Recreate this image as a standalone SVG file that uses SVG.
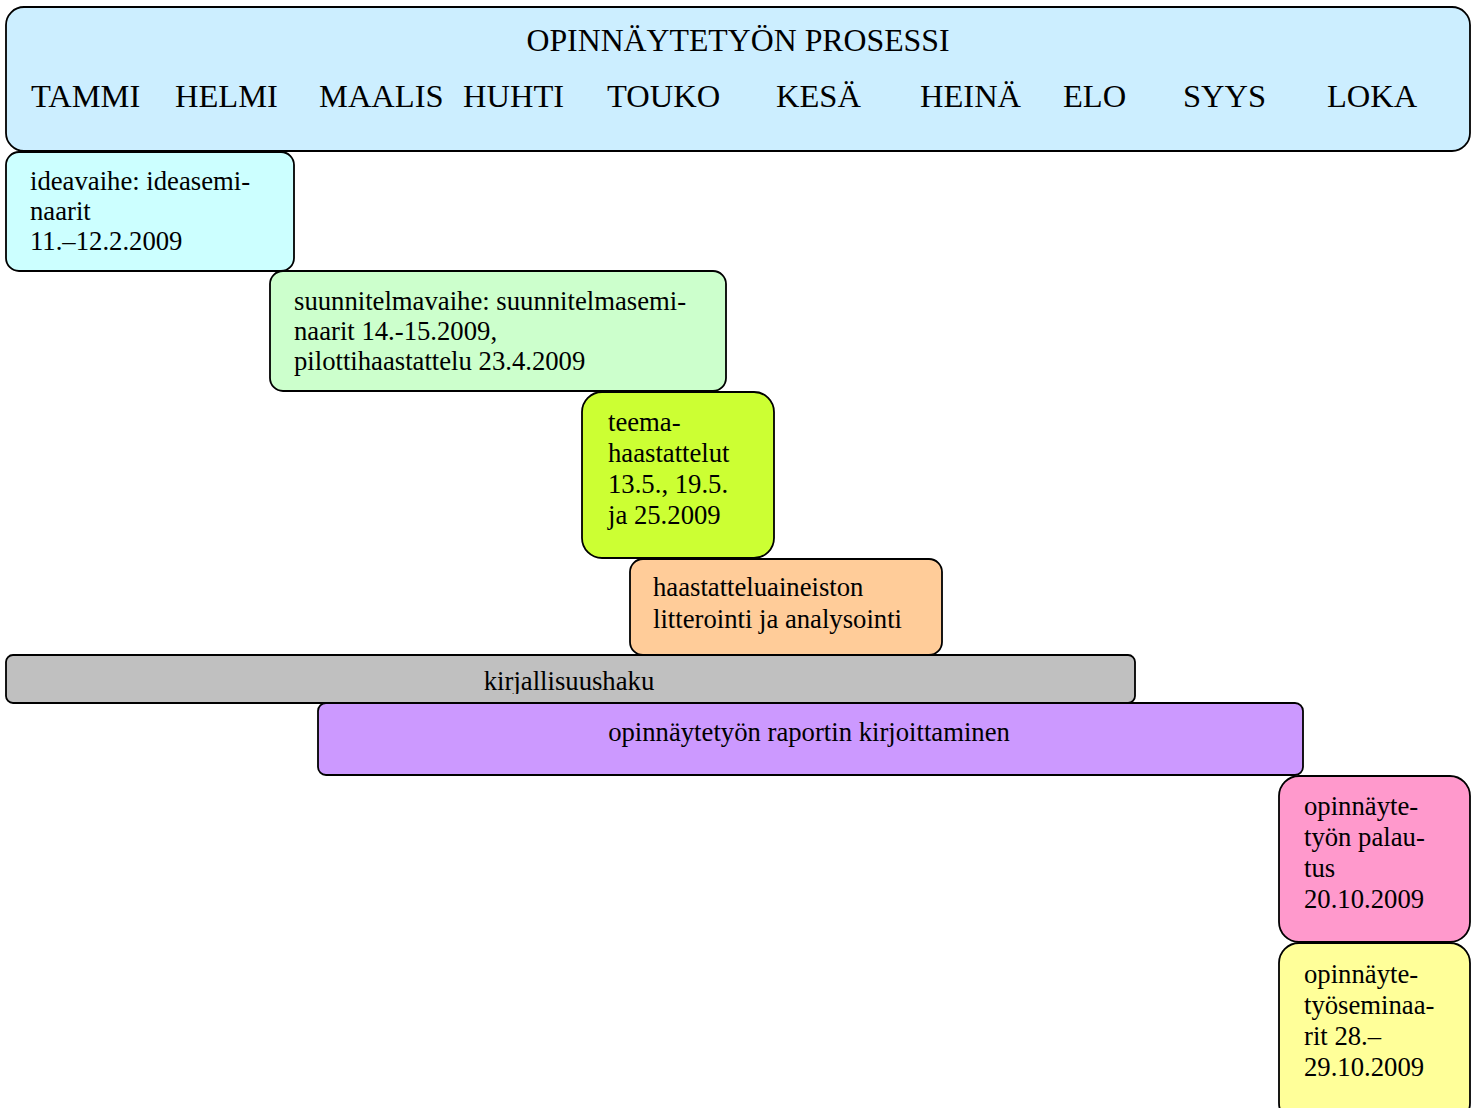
<svg xmlns="http://www.w3.org/2000/svg" width="1473" height="1108" viewBox="0 0 1473 1108">
<style>
.box{stroke:#000;stroke-width:1.8}
.t{font-family:"Liberation Serif","Times New Roman",serif;font-size:26.7px;fill:#000}
.h{font-family:"Liberation Serif","Times New Roman",serif;font-size:32.5px;fill:#000}
.ti{font-family:"Liberation Serif","Times New Roman",serif;font-size:31.8px;fill:#000;text-anchor:middle}
.c{text-anchor:middle}
</style>
<defs>
<clipPath id="kclip"><rect x="6" y="655" width="1129" height="39"/></clipPath>
</defs>
<rect width="1473" height="1108" fill="#fff"/>
<g id="header">
<rect class="box" x="6" y="7" width="1464" height="144" rx="18" fill="#cceeff"/>
<text class="ti" x="738" y="51">OPINNÄYTETYÖN PROSESSI</text>
<text class="h" x="31" y="107">TAMMI</text>
<text class="h" x="175" y="107">HELMI</text>
<text class="h" x="319" y="107">MAALIS</text>
<text class="h" x="463" y="107">HUHTI</text>
<text class="h" x="607" y="107">TOUKO</text>
<text class="h" x="776" y="107">KESÄ</text>
<text class="h" x="920" y="107">HEINÄ</text>
<text class="h" x="1063" y="107">ELO</text>
<text class="h" x="1183" y="107">SYYS</text>
<text class="h" x="1327" y="107">LOKA</text>
</g>
<g id="ideavaihe">
<rect class="box" x="6" y="152" width="288" height="119" rx="13" fill="#ccffff"/>
<text class="t" x="30" y="190">ideavaihe: ideasemi-</text>
<text class="t" x="30" y="220">naarit</text>
<text class="t" x="30" y="250">11.–12.2.2009</text>
</g>
<g id="suunnitelmavaihe">
<rect class="box" x="270" y="271" width="456" height="120" rx="13" fill="#ccffcc"/>
<text class="t" x="294" y="310">suunnitelmavaihe: suunnitelmasemi-</text>
<text class="t" x="294" y="340">naarit 14.-15.2009,</text>
<text class="t" x="294" y="370">pilottihaastattelu 23.4.2009</text>
</g>
<g id="teemahaastattelut">
<rect class="box" x="582" y="392" width="192" height="166" rx="20" fill="#ccff33"/>
<text class="t" x="608" y="431">teema-</text>
<text class="t" x="608" y="462">haastattelut</text>
<text class="t" x="608" y="493">13.5., 19.5.</text>
<text class="t" x="608" y="524">ja 25.2009</text>
</g>
<g id="litterointi">
<rect class="box" x="630" y="559" width="312" height="96" rx="13" fill="#ffcc99"/>
<text class="t" x="653" y="596">haastatteluaineiston</text>
<text class="t" x="653" y="628">litterointi ja analysointi</text>
</g>
<g id="kirjallisuushaku">
<rect class="box" x="6" y="655" width="1129" height="48" rx="7" fill="#c0c0c0"/>
<text class="t c" x="569" y="690" clip-path="url(#kclip)">kirjallisuushaku</text>
</g>
<g id="raportti">
<rect class="box" x="318" y="703" width="985" height="72" rx="8" fill="#cc99ff"/>
<text class="t c" x="809" y="741">opinnäytetyön raportin kirjoittaminen</text>
</g>
<g id="palautus">
<rect class="box" x="1279" y="776" width="191" height="166" rx="20" fill="#ff99cc"/>
<text class="t" x="1304" y="815">opinnäyte-</text>
<text class="t" x="1304" y="846">työn palau-</text>
<text class="t" x="1304" y="877">tus</text>
<text class="t" x="1304" y="908">20.10.2009</text>
</g>
<g id="seminaarit">
<rect class="box" x="1279" y="943" width="191" height="180" rx="20" fill="#ffff99"/>
<text class="t" x="1304" y="983">opinnäyte-</text>
<text class="t" x="1304" y="1014">työseminaa-</text>
<text class="t" x="1304" y="1045">rit 28.–</text>
<text class="t" x="1304" y="1076">29.10.2009</text>
</g>
<g id="connectors"></g>
</svg>
